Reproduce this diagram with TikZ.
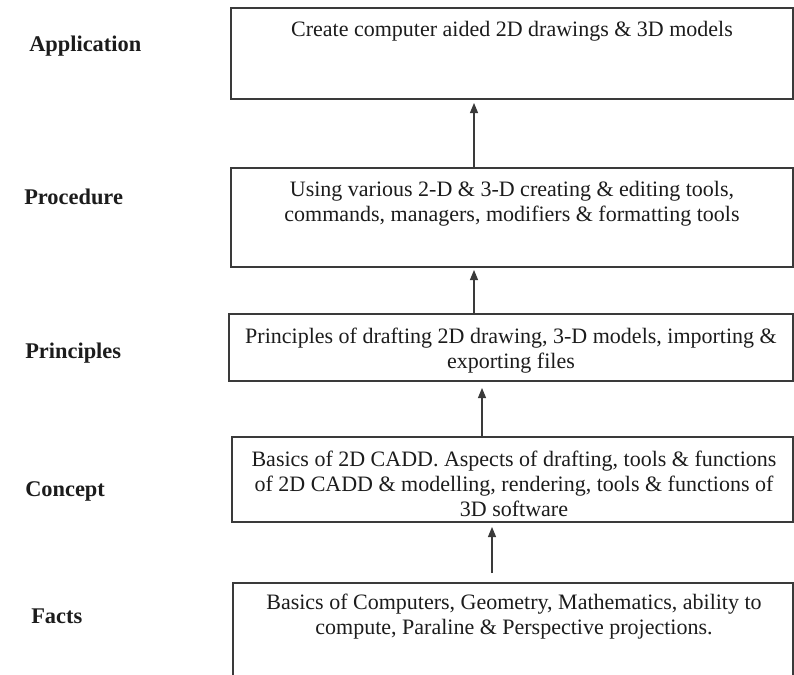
\documentclass[tikz,border=0pt]{standalone}
\usepackage{fontspec}
\setmainfont{Liberation Serif}
\usetikzlibrary{arrows.meta}
\definecolor{inkline}{HTML}{3A3A3A}
\definecolor{inktext}{HTML}{1C1C1C}
\begin{document}
\begin{tikzpicture}[x=0.75pt,y=-0.75pt,
  boxstyle/.style={rectangle,draw=inkline,line width=1.1pt,inner sep=0pt,outer sep=0pt},
  openbox/.style={rectangle,inner sep=0pt,outer sep=0pt},
  bodytext/.style={inner sep=0pt,align=center,text=inktext,font=\fontsize{16.5}{18.75}\selectfont},
  leveltext/.style={inner sep=0pt,anchor=west,text=inktext,font=\fontsize{16.8}{18.75}\selectfont\bfseries},
  uparrow/.style={draw=inkline,line width=0.8pt,-{Triangle[length=7.5pt,width=6pt]}}]
\useasboundingbox (0,0) rectangle (794,675);
\fill[white] (0,0) rectangle (794,675);

% boxes
\node[boxstyle,minimum width=421.5pt,minimum height=68.25pt] (b1) at (512,53.5) {};
\node[boxstyle,minimum width=421.5pt,minimum height=74.25pt] (b2) at (512,217.5) {};
\node[boxstyle,minimum width=423pt,minimum height=50.25pt] (b3) at (511,347.5) {};
\node[boxstyle,minimum width=420.75pt,minimum height=63.75pt] (b4) at (512.5,479.5) {};
\node[openbox,minimum width=420pt,minimum height=69pt] (b5) at (513,629) {};
\draw[inkline,line width=1.1pt] (b5.south west) -- (b5.north west) -- (b5.north east) -- (b5.south east);

% box texts
\node[bodytext] (t1) at (512,31.5) {Create computer aided 2D drawings \& 3D models};
\node[bodytext] (t2) at (512,204) {Using various 2-D \& 3-D creating \& editing tools,\\commands, managers, modifiers \& formatting tools};
\node[bodytext] (t3) at (511,350.5) {Principles of drafting 2D drawing, 3-D models, importing \&\\exporting files};
\node[bodytext] (t4) at (514,484) {Basics of 2D CADD. Aspects of drafting, tools \& functions\\of 2D CADD \& modelling, rendering, tools \& functions of\\3D software};
\node[bodytext] (t5) at (514,617) {Basics of Computers, Geometry, Mathematics, ability to\\compute, Paraline \& Perspective projections.};

% level labels
\node[leveltext] (l1) at (29,46) {Application};
\node[leveltext] (l2) at (24,197) {Procedure};
\node[leveltext] (l3) at (25,353) {Principles};
\node[leveltext] (l4) at (25,491) {Concept};
\node[leveltext] (l5) at (31,616) {Facts};

% arrows
\coordinate (a1tip) at (474,103);
\coordinate (a2tip) at (474,270);
\coordinate (a3tip) at (482,388);
\coordinate (a4tip) at (492,527);
\coordinate (a4tail) at (492,573);
\draw[uparrow] (b2.north -| a1tip) -- (a1tip);
\draw[uparrow] (b3.north -| a2tip) -- (a2tip);
\draw[uparrow] (b4.north -| a3tip) -- (a3tip);
\draw[uparrow] (a4tail) -- (a4tip);
\end{tikzpicture}
\end{document}
